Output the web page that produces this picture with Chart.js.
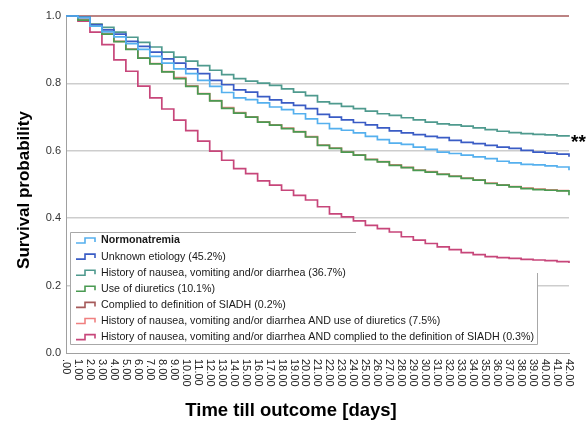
<!DOCTYPE html>
<html>
<head>
<meta charset="utf-8">
<title>Survival by hyponatremia etiology</title>
<script src="https://cdn.jsdelivr.net/npm/chart.js@4"></script>
<style>
  html, body { margin: 0; padding: 0; background: #fff; }
  canvas { display: block; }
</style>
</head>
<body>
<canvas id="km" width="587" height="422"></canvas>
<script>
// ===============================
// Kaplan-Meier curves by etiology
// stepped lines, custom legend + rotated day labels
// ===============================

const FONT = '"Liberation Sans", Arial, sans-serif';

// Days 0..42 (x axis)
const days = [0, 1, 2, 3, 4, 5, 6, 7, 8, 9, 10, 11, 12, 13, 14, 15, 16, 17, 18, 19, 20,
  21, 22, 23, 24, 25, 26, 27, 28, 29, 30, 31, 32, 33, 34, 35, 36, 37, 38, 39, 40, 41, 42];

// Survival probability per day
const normonatremia = [1.0, 0.995, 0.970, 0.953, 0.938, 0.918, 0.901, 0.880, 0.860, 0.843, 0.829,
  0.809, 0.791, 0.773, 0.757, 0.752, 0.742, 0.730, 0.722, 0.710, 0.695,
  0.681, 0.666, 0.661, 0.653, 0.643, 0.633, 0.623, 0.619, 0.611, 0.604,
  0.596, 0.592, 0.587, 0.582, 0.577, 0.569, 0.564, 0.560, 0.558, 0.555, 0.552, 0.542];
const unknownEtiology = [1.0, 0.996, 0.974, 0.959, 0.946, 0.925, 0.910, 0.893, 0.873, 0.860, 0.843,
  0.829, 0.809, 0.796, 0.781, 0.774, 0.761, 0.751, 0.742, 0.735, 0.725,
  0.708, 0.700, 0.692, 0.684, 0.677, 0.668, 0.659, 0.653, 0.648, 0.643,
  0.639, 0.631, 0.625, 0.621, 0.616, 0.611, 0.607, 0.601, 0.596, 0.593, 0.590, 0.582];
const nausea = [1.0, 0.997, 0.976, 0.966, 0.952, 0.937, 0.922, 0.908, 0.893, 0.878, 0.866,
  0.853, 0.839, 0.826, 0.814, 0.807, 0.801, 0.794, 0.784, 0.774, 0.764,
  0.745, 0.740, 0.732, 0.725, 0.718, 0.710, 0.705, 0.698, 0.692, 0.685,
  0.680, 0.677, 0.673, 0.668, 0.663, 0.658, 0.654, 0.651, 0.649, 0.647, 0.644, 0.642];
const diuretics = [1.0, 0.988, 0.974, 0.946, 0.924, 0.901, 0.875, 0.858, 0.834, 0.814, 0.791,
  0.769, 0.748, 0.726, 0.712, 0.700, 0.685, 0.676, 0.666, 0.656, 0.641,
  0.616, 0.607, 0.596, 0.587, 0.574, 0.567, 0.557, 0.550, 0.542, 0.537,
  0.530, 0.524, 0.518, 0.513, 0.503, 0.498, 0.493, 0.488, 0.485, 0.483, 0.481, 0.468];
const nauseaDiuretics = [1.0, 0.990, 0.975, 0.948, 0.925, 0.902, 0.876, 0.859, 0.835, 0.817, 0.793,
  0.770, 0.749, 0.728, 0.713, 0.701, 0.686, 0.677, 0.667, 0.657, 0.642,
  0.617, 0.608, 0.597, 0.588, 0.575, 0.568, 0.558, 0.551, 0.543, 0.538,
  0.531, 0.525, 0.519, 0.514, 0.504, 0.499, 0.494, 0.489, 0.486, 0.484, 0.482, 0.482];
const nauseaSiadh = [1.0, 0.985, 0.952, 0.915, 0.870, 0.836, 0.792, 0.757, 0.724, 0.691, 0.660,
  0.629, 0.599, 0.572, 0.547, 0.532, 0.511, 0.498, 0.483, 0.468, 0.454,
  0.434, 0.413, 0.404, 0.392, 0.379, 0.369, 0.359, 0.345, 0.335, 0.325,
  0.315, 0.307, 0.298, 0.292, 0.286, 0.283, 0.281, 0.278, 0.276, 0.274, 0.271, 0.267];

// SIADH group: no events over the whole follow-up
const siadhDays = [0, 42];
const siadh = [1.0, 1.0];

const groupLabels = [
  "Normonatremia",
  "Unknown etiology (45.2%)",
  "History of nausea, vomiting and/or diarrhea (36.7%)",
  "Use of diuretics (10.1%)",
  "Complied to definition of SIADH (0.2%)",
  "History of nausea, vomiting and/or diarrhea AND use of diuretics (7.5%)",
  "History of nausea, vomiting and/or diarrhea AND complied to the definition of SIADH (0.3%)"
];
const groupColors = ["#55b0ee", "#3a5cc5", "#4f9a8e", "#4a9a52", "#a65a5a", "#f08080", "#c7467a"];

const yTicks = [0, 0.2, 0.4, 0.6, 0.8, 1.0];

// Build {x,y} points
function pts(xs, ys) {
  return xs.map((x, i) => ({ x: x, y: ys[i] }));
}

const seriesData = [
  pts(days, normonatremia),
  pts(days, unknownEtiology),
  pts(days, nausea),
  pts(days, diuretics),
  pts(siadhDays, siadh),
  pts(days, nauseaDiuretics),
  pts(days, nauseaSiadh)
];

// Legend box drawn under the curves (hides the 0.2 grid line)
const legendBox = {
  id: "legendBox",
  beforeDatasetsDraw(chart) {
    const ctx = chart.ctx;
    const left = 70, top = 232, right = 537, bottom = 344;
    ctx.save();
    ctx.fillStyle = "#ffffff";
    ctx.fillRect(left, top, right - left, bottom - top);

    ctx.strokeStyle = "#a8a8a8";
    ctx.lineWidth = 1;
    ctx.beginPath();
    ctx.moveTo(356, top + 0.5);
    ctx.lineTo(left + 0.5, top + 0.5);
    ctx.lineTo(left + 0.5, bottom + 0.5);
    ctx.lineTo(right + 0.5, bottom + 0.5);
    ctx.lineTo(right + 0.5, 273);
    ctx.stroke();

    groupLabels.forEach((label, i) => {
      const cy = 240 + i * 16.1;
      ctx.strokeStyle = groupColors[i];
      ctx.lineWidth = 1.6;
      ctx.beginPath();
      ctx.moveTo(76, cy + 3);
      ctx.lineTo(85, cy + 3);
      ctx.lineTo(85, cy - 2);
      ctx.lineTo(95, cy - 2);
      ctx.lineTo(95, cy + 2);
      ctx.stroke();

      ctx.fillStyle = "#1a1a1a";
      ctx.font = (i === 0 ? "bold " : "") + "10.7px " + FONT;
      ctx.textAlign = "left";
      ctx.textBaseline = "middle";
      ctx.fillText(label, 101, cy + 0.5);
    });
    ctx.restore();
  }
};

// Day labels (read top to bottom), axis titles, significance mark
const extraText = {
  id: "extraText",
  afterDraw(chart) {
    const ctx = chart.ctx;
    const xs = chart.scales.x;
    const ys = chart.scales.y;
    ctx.save();

    ctx.fillStyle = "#222";
    ctx.font = "11px " + FONT;
    ctx.textAlign = "left";
    ctx.textBaseline = "middle";
    days.forEach(d => {
      const label = d === 0 ? ".00" : d.toFixed(2);
      ctx.save();
      ctx.translate(xs.getPixelForValue(d), 359);
      ctx.rotate(Math.PI / 2);
      ctx.fillText(label, 0, 0);
      ctx.restore();
    });

    // x title
    ctx.fillStyle = "#000";
    ctx.font = "bold 18.5px " + FONT;
    ctx.textAlign = "center";
    ctx.textBaseline = "alphabetic";
    ctx.fillText("Time till outcome [days]", 291, 416);

    // y title
    ctx.save();
    ctx.translate(28.5, 190);
    ctx.rotate(-Math.PI / 2);
    ctx.font = "bold 17px " + FONT;
    ctx.fillText("Survival probability", 0, 0);
    ctx.restore();

    // ** next to the end of the nausea curve
    const last = nausea[nausea.length - 1];
    ctx.font = "bold 19px " + FONT;
    ctx.textAlign = "left";
    ctx.fillText("**", xs.getPixelForValue(42) + 2, ys.getPixelForValue(last) + 11);

    ctx.restore();
  }
};

new Chart(document.getElementById("km"), {
  type: "line",
  data: {
    datasets: seriesData.map((data, i) => ({
      label: groupLabels[i],
      data: data,
      borderColor: groupColors[i],
      backgroundColor: groupColors[i],
      borderWidth: 1.7,
      pointRadius: 0,
      stepped: true,
      fill: false,
      clip: 6
    }))
  },
  options: {
    responsive: false,
    animation: false,
    devicePixelRatio: 1,
    layout: { padding: { top: 16, right: 18, left: 0, bottom: 0 } },
    plugins: {
      legend: { display: false },
      tooltip: { enabled: false }
    },
    scales: {
      x: {
        type: "linear",
        min: 0,
        max: 42,
        ticks: { display: false },
        grid: { display: false, drawTicks: false },
        border: { display: true, color: "#a0a0a0", width: 1 },
        afterFit(scale) { scale.height = 69; }
      },
      y: {
        min: 0,
        max: 1,
        afterBuildTicks(scale) {
          scale.ticks = yTicks.map(v => ({ value: v }));
        },
        ticks: {
          padding: 5,
          color: "#333",
          font: { family: FONT, size: 11 },
          callback: v => v.toFixed(1)
        },
        grid: {
          drawTicks: false,
          lineWidth: 1.5,
          color: c => (c.tick && c.tick.value > 0.01 && c.tick.value < 0.99) ? "#cdcdcd" : "rgba(0,0,0,0)"
        },
        border: { display: true, color: "#a0a0a0", width: 1 },
        afterFit(scale) { scale.width = 66; }
      }
    }
  },
  plugins: [legendBox, extraText]
});
</script>
</body>
</html>
